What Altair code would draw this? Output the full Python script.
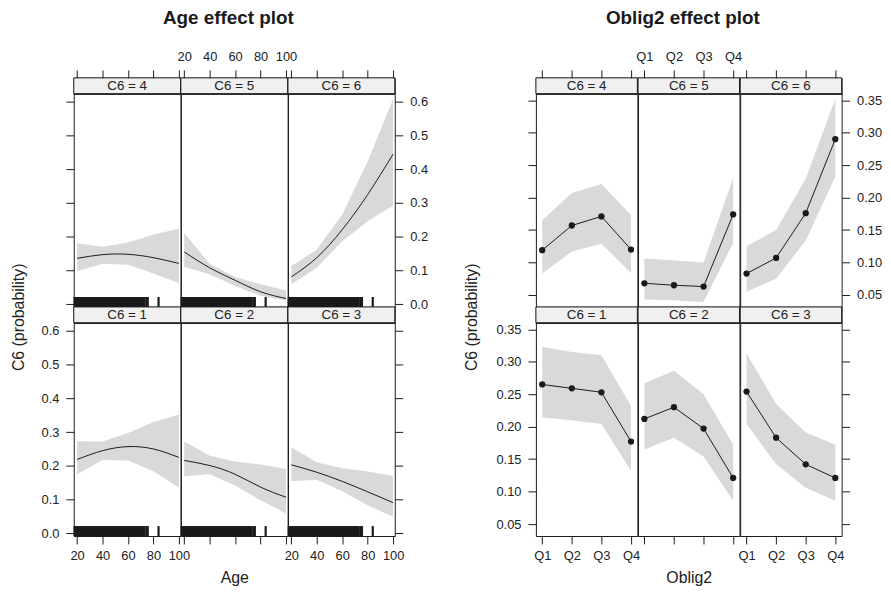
import altair as alt
import pandas as pd

FONT = "Liberation Sans"
INK = "#1a1a1a"
TXT = "#222222"
BAND = "#d9d9d9"
STRIP_FILL = "#f0f0f0"

STRIP_H = 16
PANEL_H = 215
GAP_W = 141.3

TOP_LEVELS = [4, 5, 6]
BOTTOM_LEVELS = [1, 2, 3]

# ---------------- Age effect plot ----------------
AGE_X = [20, 40, 60, 80, 100]
AGE_FIT = {
    1: [0.219, 0.245, 0.257, 0.250, 0.225],
    2: [0.216, 0.201, 0.175, 0.137, 0.107],
    3: [0.203, 0.181, 0.154, 0.123, 0.091],
    4: [0.136, 0.147, 0.148, 0.138, 0.121],
    5: [0.155, 0.108, 0.071, 0.037, 0.017],
    6: [0.081, 0.138, 0.221, 0.325, 0.445],
}
AGE_LOWER = {
    1: [0.175, 0.217, 0.216, 0.184, 0.136],
    2: [0.169, 0.175, 0.142, 0.098, 0.059],
    3: [0.154, 0.159, 0.125, 0.083, 0.049],
    4: [0.098, 0.120, 0.117, 0.091, 0.063],
    5: [0.110, 0.089, 0.054, 0.025, 0.010],
    6: [0.059, 0.108, 0.187, 0.246, 0.293],
}
AGE_UPPER = {
    1: [0.273, 0.272, 0.297, 0.330, 0.352],
    2: [0.272, 0.230, 0.213, 0.204, 0.191],
    3: [0.255, 0.211, 0.193, 0.183, 0.170],
    4: [0.181, 0.170, 0.183, 0.207, 0.224],
    5: [0.211, 0.120, 0.081, 0.059, 0.041],
    6: [0.113, 0.162, 0.266, 0.423, 0.608],
}
RUG_AGES = [18, 19, 20, 21, 22, 23, 24, 25, 26, 27, 28, 29, 30, 31, 32, 33,
            34, 35, 36, 37, 38, 39, 40, 41, 42, 43, 44, 45, 46, 47, 48, 49,
            50, 51, 52, 53, 54, 55, 56, 57, 58, 59, 60, 61, 62, 63, 64, 65,
            66, 67, 68, 69, 70, 71, 72, 73, 74.5, 75.5, 84]
AGE_TICKS = [20, 40, 60, 80, 100]
AGE_YTICKS = [0.0, 0.1, 0.2, 0.3, 0.4, 0.5, 0.6]

# ---------------- Oblig2 effect plot ----------------
OBL_X = [1, 2, 3, 4]
OBL_FIT = {
    1: [0.265, 0.259, 0.253, 0.177],
    2: [0.212, 0.230, 0.197, 0.121],
    3: [0.254, 0.183, 0.142, 0.121],
    4: [0.119, 0.157, 0.171, 0.120],
    5: [0.068, 0.065, 0.063, 0.174],
    6: [0.083, 0.107, 0.176, 0.290],
}
OBL_LOWER = {
    1: [0.214, 0.210, 0.204, 0.132],
    2: [0.165, 0.183, 0.154, 0.086],
    3: [0.204, 0.142, 0.106, 0.086],
    4: [0.083, 0.117, 0.129, 0.084],
    5: [0.043, 0.042, 0.039, 0.130],
    6: [0.055, 0.075, 0.134, 0.232],
}
OBL_UPPER = {
    1: [0.323, 0.315, 0.310, 0.232],
    2: [0.267, 0.286, 0.250, 0.172],
    3: [0.313, 0.235, 0.191, 0.172],
    4: [0.165, 0.207, 0.221, 0.173],
    5: [0.106, 0.103, 0.100, 0.230],
    6: [0.125, 0.150, 0.229, 0.352],
}
OBL_YTICKS = [0.05, 0.10, 0.15, 0.20, 0.25, 0.30, 0.35]

SPEC = {
    "age": dict(xs=AGE_X, fit=AGE_FIT, lo=AGE_LOWER, hi=AGE_UPPER, W=107.7,
                xdom=[17.35, 101.3], ydom=[-0.008, 0.624], xticks=AGE_TICKS,
                yticks=AGE_YTICKS, yfmt=".1f", labelExpr=None, xtitle="Age",
                title="Age effect plot", ytitleX=-56),
    "obl": dict(xs=OBL_X, fit=OBL_FIT, lo=OBL_LOWER, hi=OBL_UPPER, W=102.3,
                xdom=[0.786, 4.214], ydom=[0.0316, 0.360], xticks=OBL_X,
                yticks=OBL_YTICKS, yfmt=".2f", labelExpr="'Q' + datum.value",
                xtitle="Oblig2", title="Oblig2 effect plot", ytitleX=-65),
}


def strip(kind, level, row, col):
    W = SPEC[kind]["W"]
    df = pd.DataFrame({"lab": [f"C6 = {level}"]})
    base = alt.Chart(df)
    bg = base.mark_rect(color=STRIP_FILL, stroke=INK, strokeWidth=1).encode(
        x=alt.value(0), x2=alt.value(W), y=alt.value(0), y2=alt.value(STRIP_H))
    tx = base.mark_text(font=FONT, fontSize=13.5, color=TXT, baseline="middle",
                        align="center").encode(
        text="lab:N", x=alt.value(W / 2), y=alt.value(STRIP_H / 2 + 0.5))
    props = dict(width=W, height=STRIP_H)
    if row == 0 and col == 1:
        props["title"] = alt.TitleParams(
            SPEC[kind]["title"], font=FONT, fontSize=19, fontWeight="bold",
            color=INK, anchor="middle", frame="group", dx=-6, offset=50)
    return alt.layer(bg, tx).properties(**props)


def panel(kind, level, row, col):
    s = SPEC[kind]
    W = s["W"]
    df = pd.DataFrame({"x": s["xs"], "fit": s["fit"][level],
                       "lower": s["lo"][level], "upper": s["hi"][level]})

    # x axis
    xa = dict(values=s["xticks"], tickSize=8, labelPadding=6, title=None,
              labelOverlap=False, labelFlush=False)
    if s["labelExpr"]:
        xa["labelExpr"] = s["labelExpr"]
    if row == 0:
        xa.update(orient="top", offset=STRIP_H, labels=(col == 1))
    else:
        xa.update(orient="bottom", labels=(col != 1))
        if col == 1:
            xa.update(title=s["xtitle"], titleY=42, titleBaseline="middle")
    x_enc = alt.X("x:Q", scale=alt.Scale(domain=s["xdom"], nice=False, zero=False),
                  axis=alt.Axis(**xa))

    # y axis
    ya = dict(values=s["yticks"], format=s["yfmt"], tickSize=8, title=None,
              labelOverlap=False, labelFlush=False, labelPadding=7)
    if col == 0:
        ya.update(orient="left", labels=(row == 1))
        if row == 1:
            ya.update(title="C6 (probability)", titleX=s["ytitleX"], titleY=-6,
                      titleAngle=270, titleAlign="center", titleBaseline="middle")
        yaxis = alt.Axis(**ya)
    elif col == 2:
        ya.update(orient="right", labels=(row == 0))
        yaxis = alt.Axis(**ya)
    else:
        yaxis = None
    yscale = alt.Scale(domain=s["ydom"], nice=False, zero=False)

    base = alt.Chart(df)
    band = base.mark_area(color=BAND, opacity=1, clip=True).encode(
        x=x_enc, y=alt.Y("lower:Q", scale=yscale, axis=yaxis), y2="upper:Q")
    if kind == "age":
        line = base.mark_line(color=INK, strokeWidth=1, interpolate="natural",
                              clip=True).encode(
            x=x_enc, y=alt.Y("fit:Q", scale=yscale, axis=yaxis))
        rug = alt.Chart(pd.DataFrame({"x": RUG_AGES})).mark_rule(
            color=INK, strokeWidth=2.2).encode(
            x=x_enc, y=alt.value(PANEL_H), y2=alt.value(PANEL_H - 10))
        layers = [band, line, rug]
    else:
        line = base.mark_line(color=INK, strokeWidth=1).encode(
            x=x_enc, y=alt.Y("fit:Q", scale=yscale, axis=yaxis))
        pts = base.mark_circle(color=INK, size=40, opacity=1).encode(
            x=x_enc, y=alt.Y("fit:Q", scale=yscale, axis=yaxis))
        layers = [band, line, pts]
    return alt.layer(*layers).properties(width=W, height=PANEL_H)


def spacer(h):
    return (alt.Chart(pd.DataFrame({"v": [0]}))
            .mark_point(opacity=0)
            .encode(x=alt.value(0), y=alt.value(0))
            .properties(width=GAP_W, height=h,
                        view=alt.ViewBackground(stroke="transparent", fill="transparent")))


cells = []
for r, levels in enumerate([TOP_LEVELS, BOTTOM_LEVELS]):
    strip_row, plot_row = [], []
    for kind in ["age", "obl"]:
        for c, lv in enumerate(levels):
            strip_row.append(strip(kind, lv, r, c))
            plot_row.append(panel(kind, lv, r, c))
        if kind == "age":
            strip_row.append(spacer(STRIP_H))
            plot_row.append(spacer(PANEL_H))
    cells.extend(strip_row)
    cells.extend(plot_row)

chart = (
    alt.concat(*cells, columns=7, spacing=0, bounds="flush")
    .resolve_scale(x="independent", y="independent")
    .properties(padding={"left": 1.3, "top": -2, "right": 0, "bottom": -1})
    .configure_view(stroke=INK, strokeWidth=1)
    .configure_axis(labelFont=FONT, titleFont=FONT, labelFontSize=13,
                    labelColor=TXT, titleFontSize=16, titleFontWeight="normal",
                    titleColor=TXT, domain=False, grid=False, tickColor=INK,
                    tickWidth=1)
)

chart.save("out.html", embed_options={"renderer": "svg", "actions": False})
